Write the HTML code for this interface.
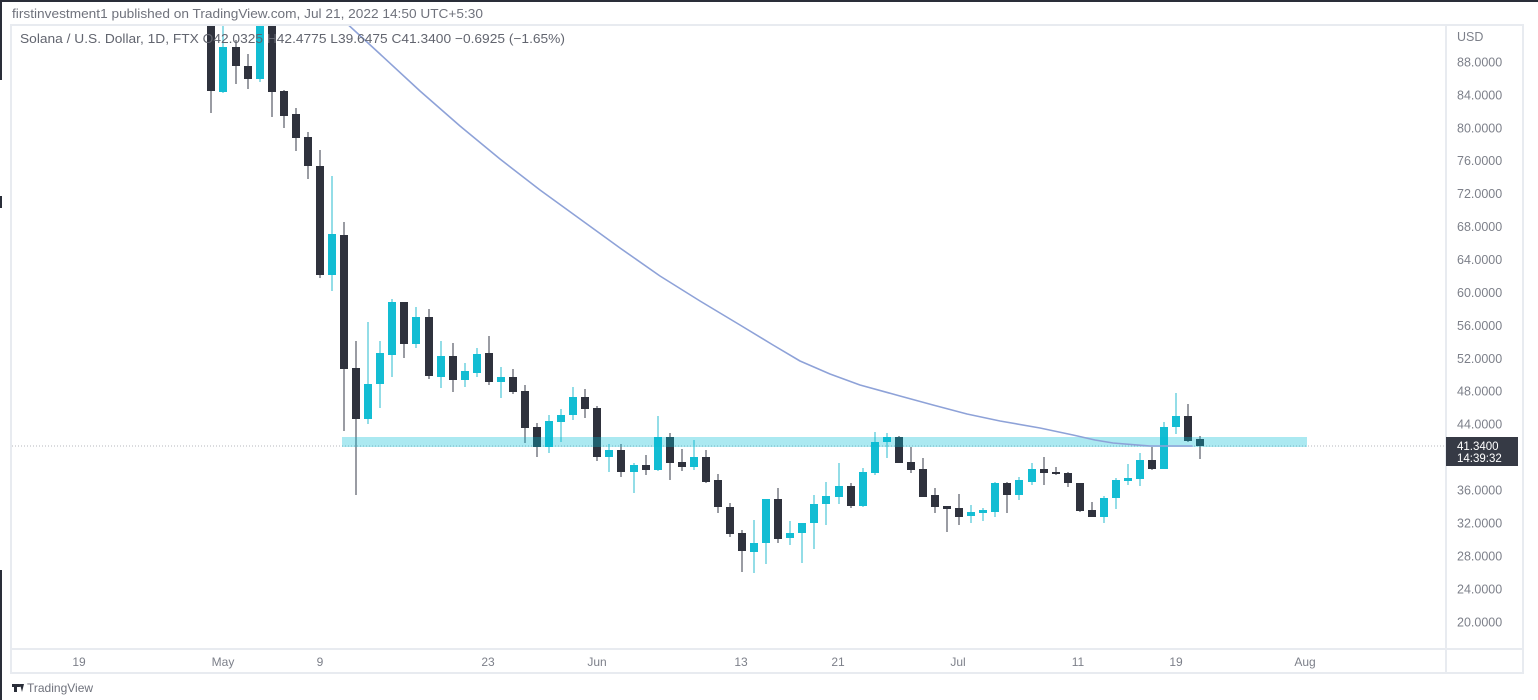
<!DOCTYPE html>
<html><head><meta charset="utf-8"><style>
html,body{margin:0;padding:0;background:#fff;}
svg{display:block;}
text{font-family:"Liberation Sans",Arial,sans-serif;}
</style></head><body>
<svg width="1538" height="700" viewBox="0 0 1538 700" xmlns="http://www.w3.org/2000/svg">
<rect x="0" y="0" width="1538" height="700" fill="#fff"/>
<rect x="0" y="0" width="1538" height="2" fill="#2a2e39"/>
<rect x="0" y="0" width="2" height="80" fill="#2a2e39"/>
<rect x="0" y="570" width="2" height="130" fill="#2a2e39"/>
<rect x="0" y="196" width="2" height="12" fill="#2a2e39"/>
<text x="12" y="18" font-size="13" fill="#6f727c" textLength="471" lengthAdjust="spacingAndGlyphs">firstinvestment1 published on TradingView.com, Jul 21, 2022 14:50 UTC+5:30</text>
<rect x="11" y="25" width="1512" height="648" fill="none" stroke="#e8ebf0" stroke-width="2"/>
<line x1="1446" y1="25" x2="1446" y2="673" stroke="#e8ebf0" stroke-width="2"/>
<line x1="11" y1="649" x2="1523" y2="649" stroke="#e8ebf0" stroke-width="2"/>
<defs><clipPath id="pane"><rect x="12" y="26" width="1433" height="622"/></clipPath></defs>
<g clip-path="url(#pane)">
<line x1="12" y1="446" x2="1446" y2="446" stroke="#b4b7be" stroke-width="1" stroke-dasharray="1 2"/>
<g id="c">
<rect x="210" y="25" width="2" height="88" fill="#9a9ca3"/><rect x="207" y="25" width="8" height="66" fill="#2f323d"/>
<rect x="222" y="25" width="2" height="68" fill="#93dde7"/><rect x="219" y="47" width="8" height="45" fill="#13bdd3"/>
<rect x="235" y="40" width="2" height="44" fill="#9a9ca3"/><rect x="232" y="47" width="8" height="19" fill="#2f323d"/>
<rect x="247" y="54" width="2" height="35" fill="#9a9ca3"/><rect x="244" y="66" width="8" height="13" fill="#2f323d"/>
<rect x="259" y="25" width="2" height="57" fill="#93dde7"/><rect x="256" y="25" width="8" height="54" fill="#13bdd3"/>
<rect x="271" y="25" width="2" height="92" fill="#9a9ca3"/><rect x="268" y="25" width="8" height="67" fill="#2f323d"/>
<rect x="283" y="90" width="2" height="38" fill="#9a9ca3"/><rect x="280" y="91" width="8" height="25" fill="#2f323d"/>
<rect x="295" y="108" width="2" height="43" fill="#9a9ca3"/><rect x="292" y="114" width="8" height="24" fill="#2f323d"/>
<rect x="307" y="132" width="2" height="47" fill="#9a9ca3"/><rect x="304" y="137" width="8" height="29" fill="#2f323d"/>
<rect x="319" y="150" width="2" height="128" fill="#9a9ca3"/><rect x="316" y="166" width="8" height="109" fill="#2f323d"/>
<rect x="331" y="176" width="2" height="115" fill="#93dde7"/><rect x="328" y="234" width="8" height="41" fill="#13bdd3"/>
<rect x="343" y="222" width="2" height="209" fill="#9a9ca3"/><rect x="340" y="235" width="8" height="134" fill="#2f323d"/>
<rect x="355" y="341" width="2" height="154" fill="#9a9ca3"/><rect x="352" y="368" width="8" height="51" fill="#2f323d"/>
<rect x="367" y="322" width="2" height="102" fill="#93dde7"/><rect x="364" y="384" width="8" height="35" fill="#13bdd3"/>
<rect x="379" y="341" width="2" height="67" fill="#93dde7"/><rect x="376" y="353" width="8" height="31" fill="#13bdd3"/>
<rect x="391" y="299" width="2" height="78" fill="#93dde7"/><rect x="388" y="302" width="8" height="53" fill="#13bdd3"/>
<rect x="403" y="302" width="2" height="56" fill="#9a9ca3"/><rect x="400" y="302" width="8" height="42" fill="#2f323d"/>
<rect x="415" y="307" width="2" height="41" fill="#93dde7"/><rect x="412" y="317" width="8" height="27" fill="#13bdd3"/>
<rect x="428" y="309" width="2" height="70" fill="#9a9ca3"/><rect x="425" y="317" width="8" height="59" fill="#2f323d"/>
<rect x="440" y="341" width="2" height="47" fill="#93dde7"/><rect x="437" y="356" width="8" height="21" fill="#13bdd3"/>
<rect x="452" y="343" width="2" height="49" fill="#9a9ca3"/><rect x="449" y="356" width="8" height="24" fill="#2f323d"/>
<rect x="464" y="363" width="2" height="24" fill="#93dde7"/><rect x="461" y="371" width="8" height="9" fill="#13bdd3"/>
<rect x="476" y="348" width="2" height="29" fill="#93dde7"/><rect x="473" y="354" width="8" height="19" fill="#13bdd3"/>
<rect x="488" y="336" width="2" height="49" fill="#9a9ca3"/><rect x="485" y="353" width="8" height="29" fill="#2f323d"/>
<rect x="500" y="367" width="2" height="31" fill="#93dde7"/><rect x="497" y="377" width="8" height="5" fill="#13bdd3"/>
<rect x="512" y="369" width="2" height="25" fill="#9a9ca3"/><rect x="509" y="377" width="8" height="15" fill="#2f323d"/>
<rect x="524" y="385" width="2" height="58" fill="#9a9ca3"/><rect x="521" y="391" width="8" height="37" fill="#2f323d"/>
<rect x="536" y="423" width="2" height="34" fill="#9a9ca3"/><rect x="533" y="427" width="8" height="20" fill="#2f323d"/>
<rect x="548" y="415" width="2" height="38" fill="#93dde7"/><rect x="545" y="421" width="8" height="26" fill="#13bdd3"/>
<rect x="560" y="409" width="2" height="33" fill="#93dde7"/><rect x="557" y="415" width="8" height="7" fill="#13bdd3"/>
<rect x="572" y="387" width="2" height="33" fill="#93dde7"/><rect x="569" y="397" width="8" height="18" fill="#13bdd3"/>
<rect x="584" y="389" width="2" height="29" fill="#9a9ca3"/><rect x="581" y="397" width="8" height="12" fill="#2f323d"/>
<rect x="596" y="406" width="2" height="55" fill="#9a9ca3"/><rect x="593" y="408" width="8" height="49" fill="#2f323d"/>
<rect x="608" y="444" width="2" height="28" fill="#93dde7"/><rect x="605" y="450" width="8" height="7" fill="#13bdd3"/>
<rect x="620" y="444" width="2" height="33" fill="#9a9ca3"/><rect x="617" y="450" width="8" height="22" fill="#2f323d"/>
<rect x="633" y="463" width="2" height="30" fill="#93dde7"/><rect x="630" y="465" width="8" height="7" fill="#13bdd3"/>
<rect x="645" y="455" width="2" height="20" fill="#9a9ca3"/><rect x="642" y="465" width="8" height="5" fill="#2f323d"/>
<rect x="657" y="416" width="2" height="55" fill="#93dde7"/><rect x="654" y="437" width="8" height="33" fill="#13bdd3"/>
<rect x="669" y="433" width="2" height="47" fill="#9a9ca3"/><rect x="666" y="437" width="8" height="26" fill="#2f323d"/>
<rect x="681" y="449" width="2" height="22" fill="#9a9ca3"/><rect x="678" y="462" width="8" height="5" fill="#2f323d"/>
<rect x="693" y="440" width="2" height="30" fill="#93dde7"/><rect x="690" y="457" width="8" height="10" fill="#13bdd3"/>
<rect x="705" y="450" width="2" height="33" fill="#9a9ca3"/><rect x="702" y="457" width="8" height="25" fill="#2f323d"/>
<rect x="717" y="474" width="2" height="39" fill="#9a9ca3"/><rect x="714" y="480" width="8" height="27" fill="#2f323d"/>
<rect x="729" y="503" width="2" height="34" fill="#9a9ca3"/><rect x="726" y="507" width="8" height="27" fill="#2f323d"/>
<rect x="741" y="530" width="2" height="42" fill="#9a9ca3"/><rect x="738" y="533" width="8" height="18" fill="#2f323d"/>
<rect x="753" y="520" width="2" height="53" fill="#93dde7"/><rect x="750" y="543" width="8" height="9" fill="#13bdd3"/>
<rect x="765" y="499" width="2" height="65" fill="#93dde7"/><rect x="762" y="499" width="8" height="44" fill="#13bdd3"/>
<rect x="777" y="488" width="2" height="55" fill="#9a9ca3"/><rect x="774" y="499" width="8" height="40" fill="#2f323d"/>
<rect x="789" y="521" width="2" height="24" fill="#93dde7"/><rect x="786" y="533" width="8" height="5" fill="#13bdd3"/>
<rect x="801" y="523" width="2" height="40" fill="#93dde7"/><rect x="798" y="523" width="8" height="10" fill="#13bdd3"/>
<rect x="813" y="495" width="2" height="54" fill="#93dde7"/><rect x="810" y="504" width="8" height="19" fill="#13bdd3"/>
<rect x="825" y="482" width="2" height="43" fill="#93dde7"/><rect x="822" y="496" width="8" height="8" fill="#13bdd3"/>
<rect x="838" y="463" width="2" height="41" fill="#93dde7"/><rect x="835" y="486" width="8" height="11" fill="#13bdd3"/>
<rect x="850" y="483" width="2" height="25" fill="#9a9ca3"/><rect x="847" y="486" width="8" height="20" fill="#2f323d"/>
<rect x="862" y="468" width="2" height="39" fill="#93dde7"/><rect x="859" y="472" width="8" height="34" fill="#13bdd3"/>
<rect x="874" y="432" width="2" height="43" fill="#93dde7"/><rect x="871" y="442" width="8" height="31" fill="#13bdd3"/>
<rect x="886" y="433" width="2" height="25" fill="#93dde7"/><rect x="883" y="437" width="8" height="5" fill="#13bdd3"/>
<rect x="898" y="436" width="2" height="27" fill="#9a9ca3"/><rect x="895" y="437" width="8" height="26" fill="#2f323d"/>
<rect x="910" y="447" width="2" height="26" fill="#9a9ca3"/><rect x="907" y="462" width="8" height="8" fill="#2f323d"/>
<rect x="922" y="458" width="2" height="39" fill="#9a9ca3"/><rect x="919" y="469" width="8" height="28" fill="#2f323d"/>
<rect x="934" y="488" width="2" height="25" fill="#9a9ca3"/><rect x="931" y="495" width="8" height="12" fill="#2f323d"/>
<rect x="946" y="506" width="2" height="26" fill="#9a9ca3"/><rect x="943" y="506" width="8" height="3" fill="#2f323d"/>
<rect x="958" y="494" width="2" height="31" fill="#9a9ca3"/><rect x="955" y="508" width="8" height="9" fill="#2f323d"/>
<rect x="970" y="505" width="2" height="18" fill="#93dde7"/><rect x="967" y="512" width="8" height="4" fill="#13bdd3"/>
<rect x="982" y="508" width="2" height="13" fill="#93dde7"/><rect x="979" y="510" width="8" height="3" fill="#13bdd3"/>
<rect x="994" y="482" width="2" height="35" fill="#93dde7"/><rect x="991" y="483" width="8" height="29" fill="#13bdd3"/>
<rect x="1006" y="482" width="2" height="31" fill="#9a9ca3"/><rect x="1003" y="483" width="8" height="12" fill="#2f323d"/>
<rect x="1018" y="477" width="2" height="23" fill="#93dde7"/><rect x="1015" y="480" width="8" height="15" fill="#13bdd3"/>
<rect x="1031" y="463" width="2" height="22" fill="#93dde7"/><rect x="1028" y="469" width="8" height="13" fill="#13bdd3"/>
<rect x="1043" y="457" width="2" height="28" fill="#9a9ca3"/><rect x="1040" y="469" width="8" height="4" fill="#2f323d"/>
<rect x="1055" y="467" width="2" height="8" fill="#9a9ca3"/><rect x="1052" y="472" width="8" height="2" fill="#2f323d"/>
<rect x="1067" y="472" width="2" height="15" fill="#9a9ca3"/><rect x="1064" y="473" width="8" height="10" fill="#2f323d"/>
<rect x="1079" y="483" width="2" height="29" fill="#9a9ca3"/><rect x="1076" y="483" width="8" height="28" fill="#2f323d"/>
<rect x="1091" y="502" width="2" height="15" fill="#9a9ca3"/><rect x="1088" y="510" width="8" height="7" fill="#2f323d"/>
<rect x="1103" y="496" width="2" height="27" fill="#93dde7"/><rect x="1100" y="498" width="8" height="19" fill="#13bdd3"/>
<rect x="1115" y="478" width="2" height="31" fill="#93dde7"/><rect x="1112" y="480" width="8" height="18" fill="#13bdd3"/>
<rect x="1127" y="464" width="2" height="21" fill="#93dde7"/><rect x="1124" y="478" width="8" height="3" fill="#13bdd3"/>
<rect x="1139" y="453" width="2" height="33" fill="#93dde7"/><rect x="1136" y="460" width="8" height="19" fill="#13bdd3"/>
<rect x="1151" y="447" width="2" height="23" fill="#9a9ca3"/><rect x="1148" y="460" width="8" height="9" fill="#2f323d"/>
<rect x="1163" y="422" width="2" height="47" fill="#93dde7"/><rect x="1160" y="427" width="8" height="42" fill="#13bdd3"/>
<rect x="1175" y="393" width="2" height="41" fill="#93dde7"/><rect x="1172" y="416" width="8" height="11" fill="#13bdd3"/>
<rect x="1187" y="404" width="2" height="38" fill="#9a9ca3"/><rect x="1184" y="416" width="8" height="25" fill="#2f323d"/>
<rect x="1199" y="436" width="2" height="23" fill="#9a9ca3"/><rect x="1196" y="439" width="8" height="7" fill="#2f323d"/>
</g>
<rect x="342" y="437" width="965" height="10" fill="rgba(0,188,212,0.33)"/>
<polyline fill="none" stroke="#8ea2d8" stroke-width="1.6" stroke-linejoin="round" stroke-linecap="round" points="343,20 380,54 420,91 460,126 500,159 540,190 580,219 620,248 660,276 700,301 740,325 773,345 800,361 830,374 860,385 900,396 933,405 967,414 1000,421 1040,428 1073,435 1095,440 1113,443 1150,446 1192,446"/>
</g>
<text x="20" y="43" font-size="13" fill="#62656f" textLength="545" lengthAdjust="spacingAndGlyphs">Solana / U.S. Dollar, 1D, FTX  O42.0325  H42.4775  L39.6475  C41.3400  −0.6925 (−1.65%)</text>
<g font-size="12.5" fill="#7d808a">
<text x="1457" y="41">USD</text>
<text x="1457" y="66.5">88.0000</text>
<text x="1457" y="99.5">84.0000</text>
<text x="1457" y="132.5">80.0000</text>
<text x="1457" y="165">76.0000</text>
<text x="1457" y="198">72.0000</text>
<text x="1457" y="231">68.0000</text>
<text x="1457" y="264">64.0000</text>
<text x="1457" y="297">60.0000</text>
<text x="1457" y="330">56.0000</text>
<text x="1457" y="363">52.0000</text>
<text x="1457" y="395.5">48.0000</text>
<text x="1457" y="428.5">44.0000</text>
<text x="1457" y="494.5">36.0000</text>
<text x="1457" y="527.5">32.0000</text>
<text x="1457" y="560.5">28.0000</text>
<text x="1457" y="593.5">24.0000</text>
<text x="1457" y="626.5">20.0000</text>
</g>
<rect x="1446" y="437" width="72" height="29" fill="#363a45"/>
<text x="1457" y="450" font-size="11.5" fill="#ffffff">41.3400</text>
<text x="1457" y="462" font-size="11.5" fill="#ffffff">14:39:32</text>
<g font-size="12" fill="#7d808a" text-anchor="middle">
<text x="79" y="666">19</text>
<text x="223" y="666">May</text>
<text x="320" y="666">9</text>
<text x="488" y="666">23</text>
<text x="597" y="666">Jun</text>
<text x="741" y="666">13</text>
<text x="838" y="666">21</text>
<text x="958" y="666">Jul</text>
<text x="1078" y="666">11</text>
<text x="1176" y="666">19</text>
<text x="1305" y="666">Aug</text>
</g>
<g fill="#2a2e39">
<rect x="12" y="684" width="7" height="3"/>
<rect x="14" y="684" width="3" height="8"/>
<polygon points="20,684 24,684 22,692"/>
<circle cx="19.5" cy="685.5" r="1.5"/>
</g>
<text x="27" y="692" font-size="12" fill="#6f727c">TradingView</text>
</svg>
</body></html>
